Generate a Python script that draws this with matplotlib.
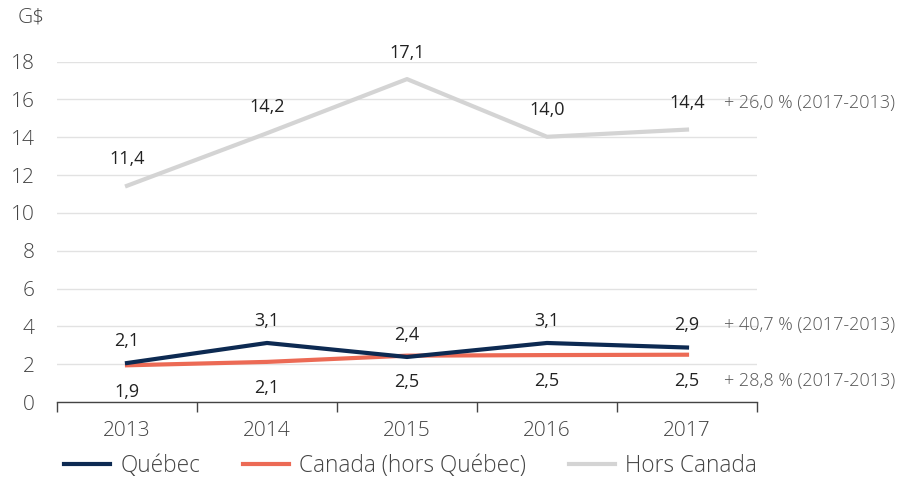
import matplotlib
matplotlib.use('Agg')
import matplotlib.pyplot as plt

years = [2013, 2014, 2015, 2016, 2017]
quebec = [2.06, 3.12, 2.38, 3.12, 2.88]
canada = [1.94, 2.12, 2.45, 2.48, 2.50]
hors_canada = [11.43, 14.21, 17.07, 14.02, 14.40]

quebec_lbl = ['2,1', '3,1', '2,4', '3,1', '2,9']
canada_lbl = ['1,9', '2,1', '2,5', '2,5', '2,5']
hors_lbl = ['11,4', '14,2', '17,1', '14,0', '14,4']
growth = ['+ 40,7 % (2017-2013)', '+ 28,8 % (2017-2013)', '+ 26,0 % (2017-2013)']

names = ['Québec', 'Canada (hors Québec)', 'Hors Canada']
colors = ['#0d2a52', '#ec6a55', '#d4d4d4']

plt.rcParams['font.family'] = ['Open Sans', 'DejaVu Sans']
plt.rcParams['font.weight'] = 'light'

fig = plt.figure(figsize=(9.16, 4.79), dpi=100)
ax = fig.add_axes([57 / 916, 77 / 479, 700 / 916, 340.5 / 479])

x = list(range(len(years)))
ax.plot(x, hors_canada, color=colors[2], lw=3, label=names[2], zorder=2)
ax.plot(x, canada, color=colors[1], lw=3, label=names[1], zorder=3)
ax.plot(x, quebec, color=colors[0], lw=3, label=names[0], zorder=4)

lblkw = dict(ha='center', va='center', fontsize=13, fontweight='normal', color='#222222',
             textcoords='offset points', annotation_clip=False)
for i in x:
    ax.annotate(quebec_lbl[i], (i, quebec[i]), xytext=(0, 16), **lblkw)
    ax.annotate(canada_lbl[i], (i, canada[i]), xytext=(0, -19), **lblkw)
    ax.annotate(hors_lbl[i], (i, hors_canada[i]), xytext=(0, 19), **lblkw)

# growth notes on the right, level with the last labels
gkw = dict(ha='left', va='center', fontsize=13, color='#555555',
           textcoords='offset points', annotation_clip=False)
ax.annotate(growth[0], (4, quebec[4]), xytext=(27, 16), **gkw)
ax.annotate(growth[1], (4, canada[4]), xytext=(27, -19), **gkw)
ax.annotate(growth[2], (4, hors_canada[4]), xytext=(27, 19), **gkw)

ax.set_xlim(-0.5, 4.5)
ax.set_ylim(0, 18)
ax.set_yticks(range(0, 19, 2))
ax.set_xticks([i - 0.5 for i in range(6)], minor=False)
ax.set_xticklabels([])
ax.set_xticks(x, minor=True)
ax.set_xticklabels([str(y) for y in years], minor=True)
ax.tick_params(axis='x', which='major', length=7, width=1, color='#444444')
ax.tick_params(axis='x', which='minor', length=0, pad=14, labelsize=15, labelcolor='#444444')
ax.tick_params(axis='y', length=0, pad=16, labelsize=15, labelcolor='#444444')
ax.grid(axis='y', color='#e2e2e2', lw=1)
ax.set_axisbelow(True)
for s in ['top', 'right', 'left']:
    ax.spines[s].set_visible(False)
ax.spines['bottom'].set_color('#444444')
ax.spines['bottom'].set_linewidth(1)

fig.text(18 / 916, 1 - 18 / 479, 'G$', ha='left', va='center', fontsize=15, color='#444444')

h, l = ax.get_legend_handles_labels()
order = [2, 1, 0]
fig.legend([h[k] for k in order], [l[k] for k in order], loc='center left',
           bbox_to_anchor=(53 / 916, 1 - 466 / 479), ncol=3, frameon=False,
           fontsize=16.3, handlelength=2.03, handletextpad=0.44, columnspacing=1.9,
           borderpad=0, labelcolor='#444444')

fig.savefig('out.png', dpi=100)
